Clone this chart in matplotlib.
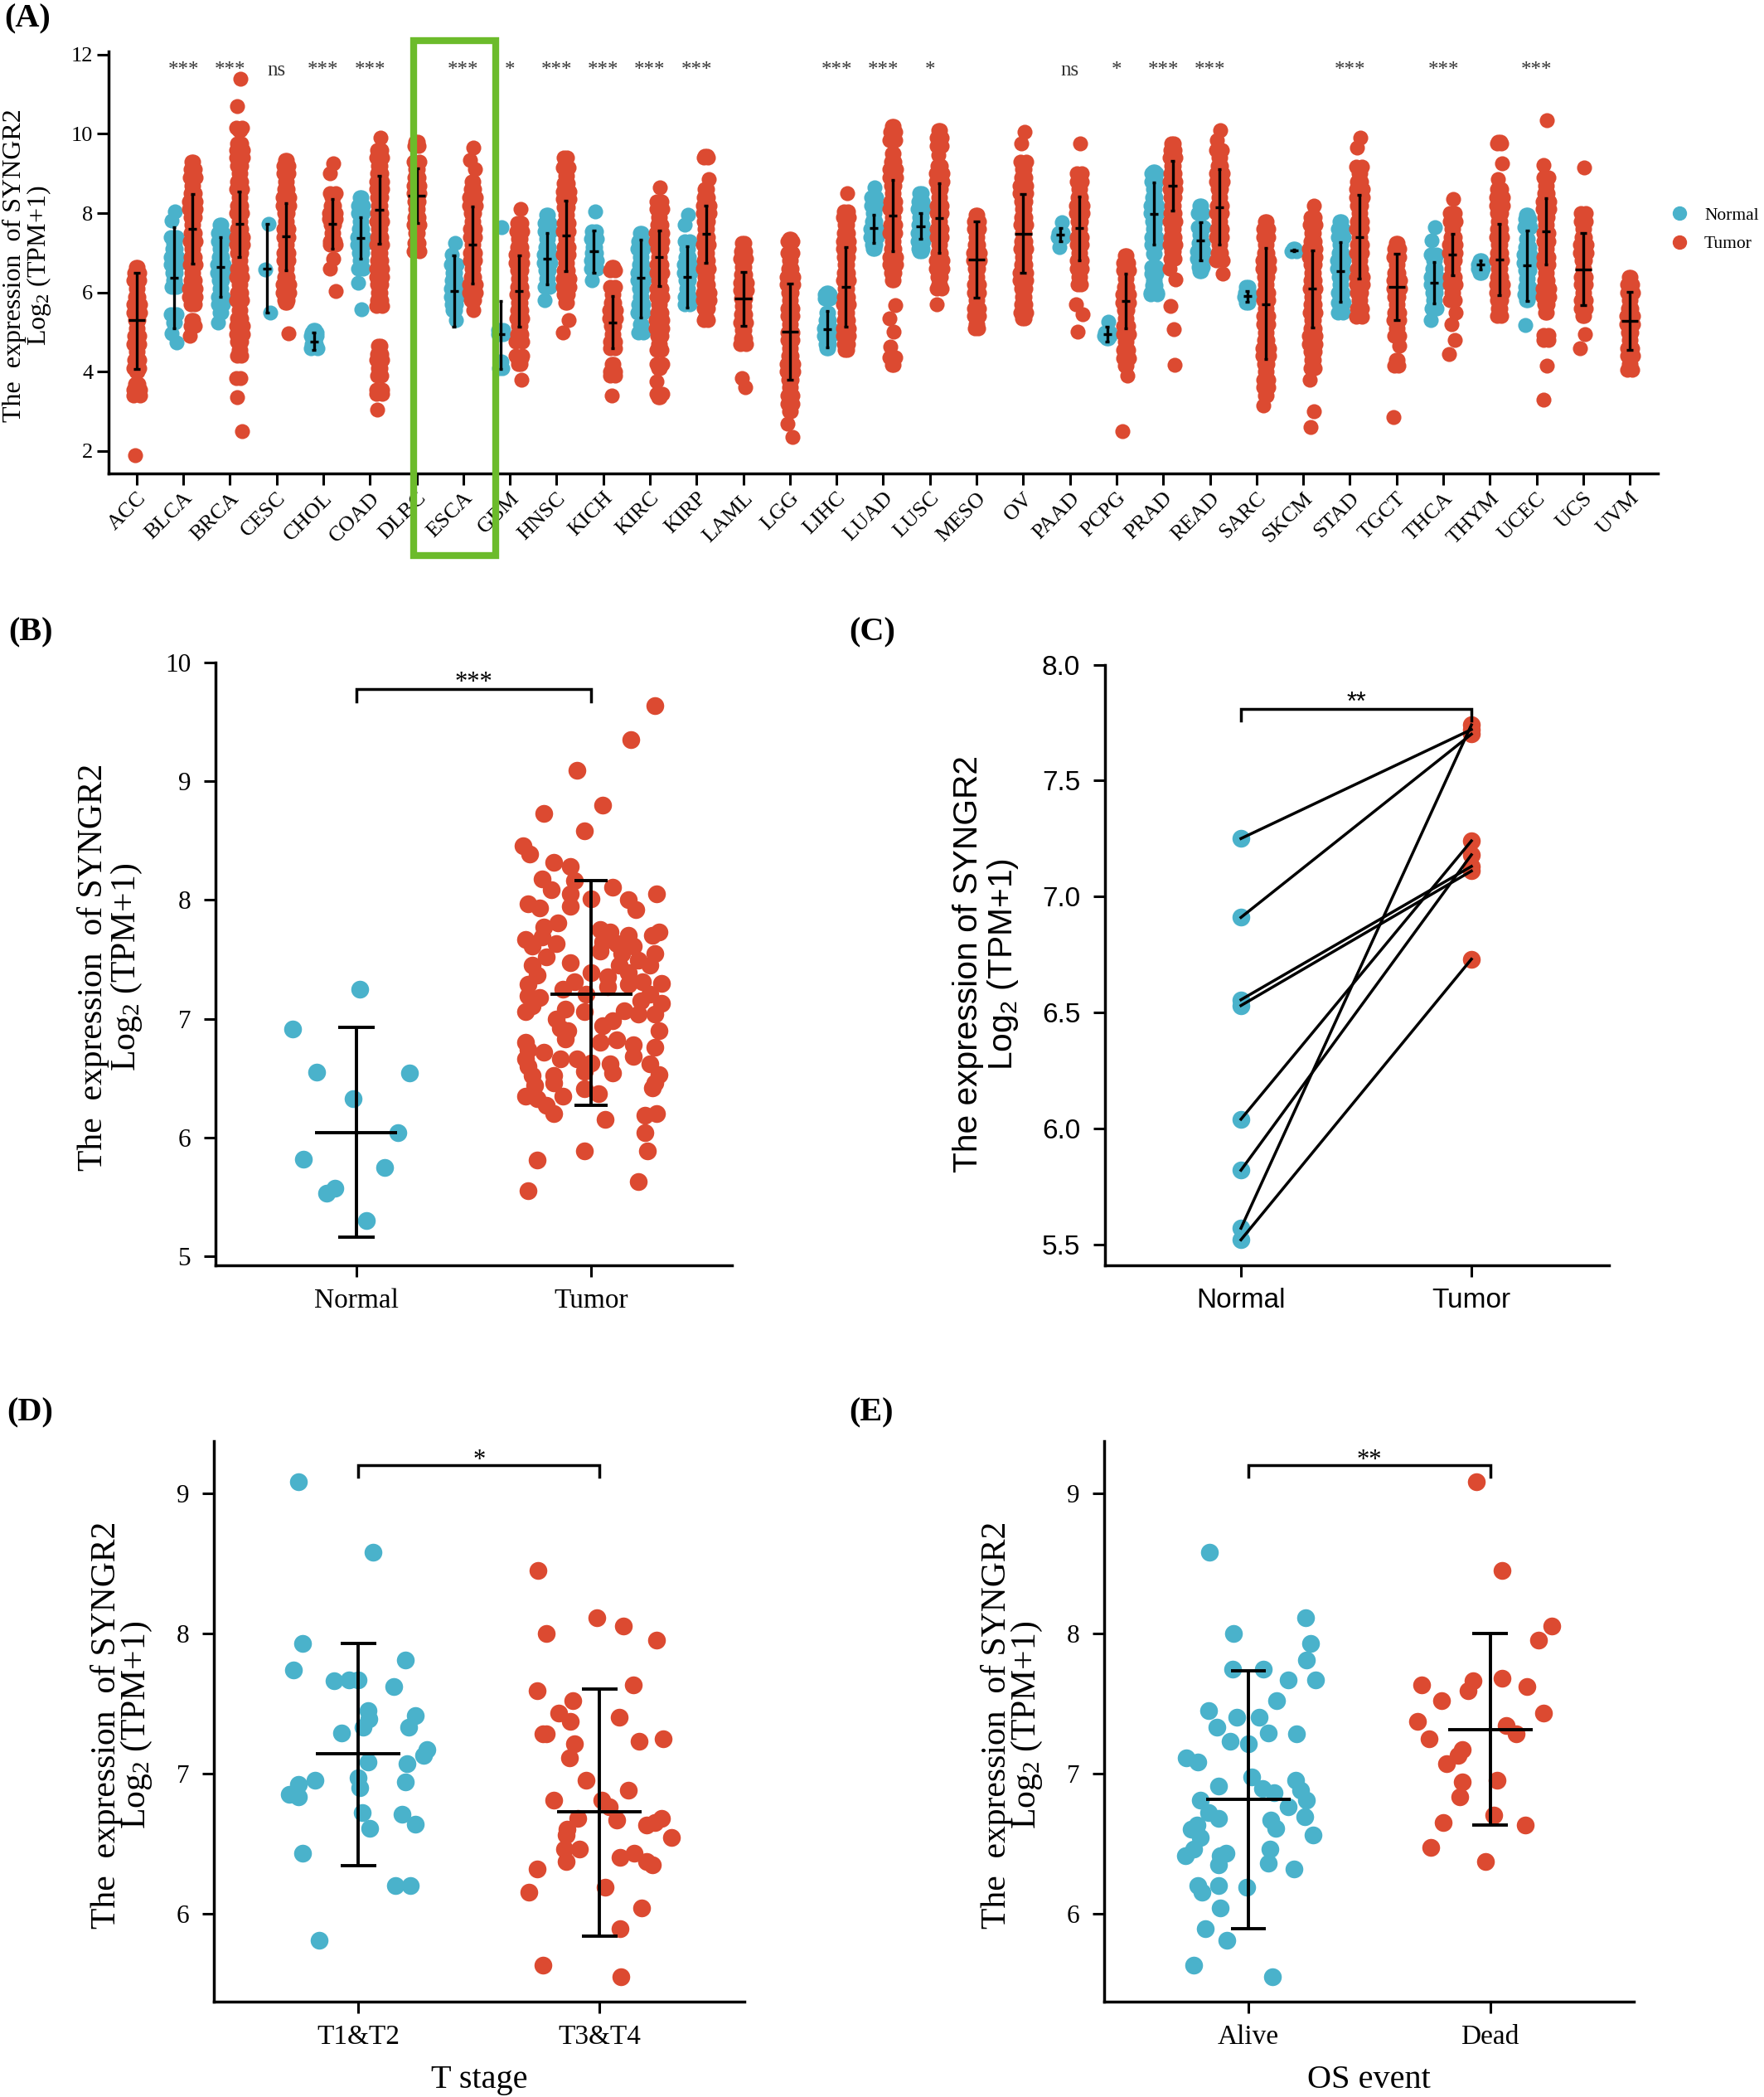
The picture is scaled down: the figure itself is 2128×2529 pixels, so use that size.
import matplotlib
matplotlib.use("Agg")
import matplotlib.pyplot as plt
from matplotlib.lines import Line2D
from matplotlib.patches import Rectangle

W, H = 2128, 2529
BLUE = "#4AB2CB"
RED = "#DC4A31"
GREEN = "#6CBB2B"
SERIF = "Liberation Serif"
SANS = "Liberation Sans"

plt.rcParams["font.family"] = [SERIF, "DejaVu Sans"]
plt.rcParams["mathtext.default"] = "regular"

# ---- panel A data ----
cancers = ["ACC", "BLCA", "BRCA", "CESC", "CHOL", "COAD", "DLBC", "ESCA", "GBM", "HNSC", "KICH",
           "KIRC", "KIRP", "LAML", "LGG", "LIHC", "LUAD", "LUSC", "MESO", "OV", "PAAD", "PCPG",
           "PRAD", "READ", "SARC", "SKCM", "STAD", "TGCT", "THCA", "THYM", "UCEC", "UCS", "UVM"]
signif = ["", "***", "***", "ns", "***", "***", "", "***", "*", "***", "***", "***", "***", "", "",
          "***", "***", "*", "", "", "ns", "*", "***", "***", "", "", "***", "", "***", "", "***", "", ""]

normal_mean = [None, 6.37, 6.65, 6.60, 4.77, 7.37, None, 6.04, 4.94, 6.86, 7.05, 6.37, 6.39, None, None,
               5.08, 7.62, 7.67, None, None, 7.46, 4.95, 7.99, 7.31, 5.91, 7.06, 6.53, None, 6.25, 6.70,
               6.68, None, None]
normal_lo = [None, 5.09, 5.90, 5.49, 4.55, 6.86, None, 5.13, 4.08, 6.20, 6.49, 5.37, 5.61, None, None,
             4.62, 7.24, 7.36, None, None, 7.29, 4.77, 7.21, 6.82, 5.77, 7.03, 5.77, None, 5.72, 6.58,
             5.79, None, None]
normal_hi = [None, 7.65, 7.40, 7.73, 4.99, 7.90, None, 6.93, 5.79, 7.50, 7.57, 7.34, 7.17, None, None,
             5.53, 7.96, 8.01, None, None, 7.62, 5.14, 8.78, 7.78, 6.03, 7.09, 7.28, None, 6.77, 6.81,
             7.57, None, None]
tumor_mean = [5.30, 7.60, 7.72, 7.42, 7.74, 8.09, 8.45, 7.21, 6.04, 7.43, 5.25, 6.89, 7.48, 5.84, 5.01,
              6.14, 7.94, 7.88, 6.83, 7.48, 7.62, 5.78, 8.70, 8.14, 5.71, 6.10, 7.40, 6.15, 6.96, 6.84,
              7.55, 6.59, 5.29]
tumor_lo = [4.08, 6.73, 6.89, 6.56, 7.10, 7.23, 7.76, 6.23, 5.14, 6.54, 4.60, 6.17, 6.75, 5.16, 3.80,
            5.14, 7.05, 7.00, 5.86, 6.49, 6.81, 5.10, 8.07, 7.20, 4.32, 5.12, 6.35, 5.31, 6.44, 5.93,
            6.71, 5.67, 4.55]
tumor_hi = [6.49, 8.48, 8.54, 8.25, 8.36, 8.94, 9.13, 8.17, 6.93, 8.31, 5.91, 7.56, 8.18, 6.51, 6.22,
            7.15, 8.83, 8.76, 7.80, 8.48, 8.43, 6.47, 9.31, 9.10, 7.12, 7.07, 8.46, 6.98, 7.48, 7.73,
            8.37, 7.50, 6.01]

BLCA_N = [8.05, 7.82, 7.4, 7.25, 7.1, 6.9, 6.7, 6.5, 6.3, 6.15, 5.45, 5.25, 4.97, 4.74]
BRCA_N = [7.7, 7.5, 7.3, 7.1, 6.9, 6.7, 6.5, 6.3, 6.1, 5.9, 5.7, 5.5, 5.25]
CESC_N = [7.72, 6.58, 5.5]
CHOL_N = [5.05, 5.0, 4.9, 4.8, 4.7, 4.6]
COAD_N = [8.4, 8.2, 8.0, 7.8, 7.6, 7.4, 7.2, 7.0, 6.8, 6.6, 6.25, 5.58]
ESCA_N = [7.25, 6.95, 6.7, 6.5, 6.3, 6.1, 5.9, 5.7, 5.55, 5.3]
GBM_N = [7.65, 5.05, 4.95, 4.25, 4.1]
HNSC_N = [7.95, 7.75, 7.55, 7.35, 7.15, 6.95, 6.75, 6.55, 6.35, 6.15, 5.8]
KICH_N = [8.05, 7.55, 7.35, 7.15, 7.0, 6.8, 6.6, 6.3]
KIRC_N = [7.5, 7.3, 7.1, 6.9, 6.7, 6.5, 6.3, 6.1, 5.9, 5.7, 5.5, 5.2, 5.0]
KIRP_N = [7.95, 7.7, 7.3, 7.1, 6.9, 6.7, 6.5, 6.3, 6.1, 5.9, 5.7]
LIHC_N = [6.0, 5.95, 5.85, 5.5, 5.3, 5.1, 4.9, 4.7, 4.6]
LUAD_N = [8.65, 8.4, 8.2, 8.0, 7.8, 7.6, 7.4, 7.2, 7.1]
LUSC_N = [8.5, 8.3, 8.1, 7.9, 7.7, 7.5, 7.3, 7.1, 7.03]
PAAD_N = [7.78, 7.5, 7.4, 7.14]
PCPG_N = [5.27, 5.0, 4.9, 4.85]
PRAD_N = [9.05, 9.0, 8.8, 8.6, 8.4, 8.2, 8.0, 7.8, 7.6, 7.4, 7.2, 6.98, 6.65, 6.47, 6.3, 6.19, 6.0, 5.95]
READ_N = [8.2, 8.0, 7.65, 7.45, 7.25, 7.05, 6.85, 6.65, 6.53]
SARC_N = [6.15, 6.0, 5.9, 5.75]
SKCM_N = [7.1, 7.05]
STAD_N = [7.8, 7.6, 7.4, 7.2, 7.0, 6.8, 6.6, 6.4, 6.2, 6.0, 5.75, 5.55, 5.5]
THCA_N = [7.65, 7.31, 6.95, 6.8, 6.6, 6.4, 6.2, 6.0, 5.8, 5.6, 5.3]
THYM_N = [6.8, 6.7, 6.6, 6.5]
UCEC_N = [7.95, 7.85, 7.65, 7.35, 7.15, 6.95, 6.75, 6.55, 6.35, 6.15, 5.95, 5.8, 5.18]

ACC_T = [6.65, 6.5, 6.3, 6.1, 5.9, 5.7, 5.5, 5.3, 5.1, 4.9, 4.7, 4.5, 4.3, 4.1, 4.0, 3.7, 3.55, 3.4, 1.9]
BLCA_T = [9.3, 9.1, 8.9, 8.7, 8.5, 8.3, 8.1, 7.9, 7.7, 7.5, 7.3, 7.1, 6.9, 6.7, 6.5, 6.3, 6.1, 5.9, 5.7, 5.3, 5.15, 4.9]
BRCA_T = [11.4, 10.7, 10.15, 10.1, 9.75, 9.6, 9.4, 9.2, 9.0, 8.8, 8.6, 8.4, 8.2, 8.0, 7.8, 7.6, 7.4, 7.2, 7.0,
          6.8, 6.6, 6.4, 6.2, 6.0, 5.8, 5.55, 5.35, 5.15, 4.95, 4.75, 4.55, 4.41, 3.85, 3.85, 3.35, 2.5]
CESC_T = [9.35, 9.2, 9.0, 8.8, 8.6, 8.4, 8.2, 8.0, 7.8, 7.6, 7.4, 7.2, 7.0, 6.8, 6.6, 6.4, 6.2, 6.0, 5.8, 5.75, 4.97]
CHOL_T = [9.25, 9.0, 8.5, 8.4, 8.2, 8.0, 7.85, 7.7, 7.5, 7.3, 7.2, 6.85, 6.6, 6.03]
COAD_T = [9.9, 9.6, 9.4, 9.2, 9.0, 8.8, 8.6, 8.4, 8.2, 8.0, 7.8, 7.6, 7.4, 7.2, 7.0, 6.8, 6.6, 6.4, 6.2, 6.0,
          5.8, 5.65, 4.65, 4.45, 4.3, 4.1, 3.9, 3.55, 3.45, 3.05]
DLBC_T = [9.8, 9.7, 9.3, 9.1, 8.9, 8.7, 8.5, 8.3, 8.1, 7.9, 7.7, 7.5, 7.25, 7.05]
ESCA_T = [9.65, 9.35, 9.1, 8.8, 8.6, 8.4, 8.2, 8.0, 7.8, 7.6, 7.4, 7.2, 7.0, 6.8, 6.6, 6.4, 6.2, 6.0, 5.8, 5.55]
GBM_T = [8.1, 7.75, 7.55, 7.35, 7.15, 6.95, 6.75, 6.55, 6.35, 6.15, 5.95, 5.75, 5.55, 5.35, 5.15, 4.95, 4.75,
         4.4, 4.35, 4.2, 3.8]
HNSC_T = [9.4, 9.4, 9.15, 8.95, 8.75, 8.55, 8.35, 8.15, 7.95, 7.75, 7.55, 7.35, 7.15, 6.95, 6.75, 6.55, 6.35,
          6.15, 5.95, 5.75, 5.3, 5.0]
KICH_T = [6.65, 6.55, 6.15, 5.95, 5.75, 5.55, 5.35, 5.15, 4.95, 4.75, 4.6, 4.2, 4.0, 3.9, 3.4]
KIRC_T = [8.65, 8.3, 8.1, 7.9, 7.7, 7.5, 7.3, 7.1, 6.9, 6.7, 6.5, 6.3, 6.1, 5.9, 5.7, 5.5, 5.3, 5.1, 4.9, 4.7,
          4.55, 4.2, 4.1, 3.75, 3.45, 3.35]
KIRP_T = [9.45, 9.4, 8.85, 8.6, 8.4, 8.2, 8.0, 7.8, 7.6, 7.4, 7.2, 7.0, 6.8, 6.6, 6.4, 6.2, 6.0, 5.8, 5.6, 5.35, 5.3]
LAML_T = [7.25, 7.05, 6.85, 6.65, 6.45, 6.25, 6.05, 5.85, 5.65, 5.45, 5.25, 5.05, 4.85, 4.7, 3.85, 3.6]
LGG_T = [7.35, 7.3, 7.0, 6.8, 6.6, 6.4, 6.2, 6.0, 5.8, 5.6, 5.4, 5.2, 5.0, 4.8, 4.6, 4.4, 4.2, 4.0, 3.8, 3.6,
         3.4, 3.2, 3.0, 2.7, 2.35]
LIHC_T = [8.5, 8.05, 7.9, 7.7, 7.5, 7.3, 7.1, 6.9, 6.7, 6.5, 6.3, 6.1, 5.9, 5.7, 5.5, 5.3, 5.1, 4.9, 4.7, 4.55]
LUAD_T = [10.2, 10.05, 9.85, 9.5, 9.3, 9.1, 8.9, 8.7, 8.5, 8.3, 8.1, 7.9, 7.7, 7.5, 7.3, 7.1, 6.9, 6.7, 6.5, 6.3,
          5.67, 5.35, 5.02, 4.64, 4.36, 4.18]
LUSC_T = [10.1, 9.9, 9.7, 9.46, 9.2, 9.0, 8.8, 8.6, 8.4, 8.2, 8.0, 7.8, 7.6, 7.4, 7.2, 7.0, 6.8, 6.6, 6.4, 6.2,
          6.09, 5.7]
MESO_T = [7.95, 7.8, 7.6, 7.4, 7.2, 7.0, 6.8, 6.6, 6.4, 6.2, 6.0, 5.8, 5.6, 5.4, 5.2, 5.1]
OV_T = [10.05, 9.75, 9.3, 9.1, 8.9, 8.7, 8.5, 8.3, 8.1, 7.9, 7.7, 7.5, 7.3, 7.1, 6.9, 6.7, 6.5, 6.3, 6.1, 5.9,
        5.7, 5.5, 5.35]
PAAD_T = [9.75, 9.0, 8.8, 8.6, 8.4, 8.2, 8.0, 7.8, 7.6, 7.4, 7.2, 7.0, 6.8, 6.6, 6.4, 6.2, 5.7, 5.45, 5.02]
PCPG_T = [6.93, 6.75, 6.55, 6.35, 6.15, 5.95, 5.75, 5.55, 5.35, 5.15, 4.95, 4.75, 4.55, 4.35, 4.15, 3.9, 2.5]
PRAD_T = [9.75, 9.6, 9.4, 9.2, 9.0, 8.8, 8.6, 8.4, 8.2, 8.0, 7.8, 7.6, 7.4, 7.2, 7.03, 6.85, 6.6, 6.33, 5.65, 5.07, 4.18]
READ_T = [10.09, 9.85, 9.6, 9.4, 9.2, 9.0, 8.8, 8.6, 8.4, 8.2, 8.0, 7.8, 7.6, 7.4, 7.2, 7.0, 6.8, 6.47]
SARC_T = [7.8, 7.6, 7.4, 7.2, 7.0, 6.8, 6.6, 6.4, 6.2, 6.0, 5.8, 5.6, 5.4, 5.2, 5.0, 4.8, 4.6, 4.4, 4.2, 4.0,
          3.8, 3.6, 3.4, 3.15]
SKCM_T = [8.2, 7.9, 7.7, 7.5, 7.3, 7.1, 6.9, 6.7, 6.5, 6.3, 6.1, 5.9, 5.7, 5.5, 5.3, 5.1, 4.9, 4.7, 4.5, 4.3,
          4.1, 3.8, 3.0, 2.6]
STAD_T = [9.9, 9.65, 9.18, 9.0, 8.8, 8.6, 8.4, 8.2, 8.0, 7.8, 7.6, 7.4, 7.2, 7.0, 6.8, 6.6, 6.4, 6.2, 6.0, 5.8,
          5.6, 5.39]
TGCT_T = [7.25, 7.1, 6.9, 6.7, 6.5, 6.3, 6.1, 5.9, 5.7, 5.5, 5.3, 5.1, 4.9, 4.65, 4.3, 4.15, 2.85]
THCA_T = [8.35, 8.0, 7.8, 7.6, 7.4, 7.2, 7.0, 6.8, 6.6, 6.4, 6.2, 6.0, 5.8, 5.5, 5.2, 4.8, 4.45]
THYM_T = [9.8, 9.75, 9.25, 8.85, 8.6, 8.4, 8.2, 8.0, 7.8, 7.6, 7.4, 7.2, 7.0, 6.8, 6.6, 6.4, 6.2, 6.0, 5.8, 5.6, 5.4]
UCEC_T = [10.35, 9.22, 8.9, 8.7, 8.5, 8.3, 8.1, 7.9, 7.7, 7.5, 7.3, 7.1, 6.9, 6.7, 6.5, 6.3, 6.1, 5.9, 5.7, 5.5,
          4.93, 4.8, 4.15, 3.3]
UCS_T = [9.15, 8.0, 7.8, 7.6, 7.4, 7.2, 7.0, 6.8, 6.6, 6.4, 6.2, 6.0, 5.8, 5.6, 5.4, 4.95, 4.6]
UVM_T = [6.4, 6.2, 6.0, 5.8, 5.6, 5.4, 5.2, 5.0, 4.8, 4.6, 4.4, 4.2, 4.05]

normal_points = [[], BLCA_N, BRCA_N, CESC_N, CHOL_N, COAD_N, [], ESCA_N, GBM_N, HNSC_N, KICH_N, KIRC_N, KIRP_N,
                 [], [], LIHC_N, LUAD_N, LUSC_N, [], [], PAAD_N, PCPG_N, PRAD_N, READ_N, SARC_N, SKCM_N, STAD_N,
                 [], THCA_N, THYM_N, UCEC_N, [], []]
tumor_points = [ACC_T, BLCA_T, BRCA_T, CESC_T, CHOL_T, COAD_T, DLBC_T, ESCA_T, GBM_T, HNSC_T, KICH_T, KIRC_T,
                KIRP_T, LAML_T, LGG_T, LIHC_T, LUAD_T, LUSC_T, MESO_T, OV_T, PAAD_T, PCPG_T, PRAD_T, READ_T,
                SARC_T, SKCM_T, STAD_T, TGCT_T, THCA_T, THYM_T, UCEC_T, UCS_T, UVM_T]
# x offsets cycled over each column of panel A
jitter = [0.02, -0.05, 0.06, -0.02, 0.04, -0.07, 0.07, -0.04, 0.02, 0.05, -0.06]

# ---- panel B data ----
b_normal_x = [0.014, -0.27, -0.17, 0.225, -0.013, 0.178, -0.227, 0.12, -0.09, -0.128, 0.043]
b_normal_y = [7.25, 6.91, 6.55, 6.54, 6.33, 6.04, 5.82, 5.75, 5.57, 5.53, 5.30]
b_tumor_x = [1.27, 1.17, 0.94, 1.05, 0.80, 0.97, 0.71, 0.74, 0.84, 0.91, 0.79, 0.93, 1.09, 1.28, 0.83, 0.91, 1.0,
             1.16, 0.73, 0.91, 0.78, 1.19, 0.86, 0.80, 1.04, 1.08, 1.29, 1.26, 1.16, 0.72, 0.79, 0.85, 0.75, 1.05,
             1.11, 1.18, 1.04, 1.27, 1.13, 0.81, 1.20, 0.91, 1.12, 0.75, 1.25, 1.16, 1.0, 0.77, 1.07, 0.93, 0.73,
             1.30, 1.22, 1.16, 1.07, 0.88, 0.98, 0.73, 0.78, 1.25, 1.21, 1.30, 0.75, 0.89, 1.14, 0.72, 0.97, 1.27,
             1.20, 0.85, 1.09, 1.05, 0.87, 1.29, 0.90, 0.89, 1.11, 1.04, 0.72, 1.18, 1.27, 0.73, 0.80, 1.18, 0.72,
             0.87, 0.94, 1.0, 1.08, 1.25, 0.73, 0.97, 1.09, 1.29, 0.75, 0.84, 0.84, 0.76, 1.27, 1.26, 0.97, 1.03,
             0.88, 0.72, 0.77, 0.81, 0.84, 1.23, 1.28, 1.06, 1.23, 0.97, 1.24, 0.77, 1.20, 0.73]
b_tumor_y = [9.64, 9.35, 9.09, 8.80, 8.73, 8.58, 8.46, 8.39, 8.32, 8.28, 8.18, 8.16, 8.11, 8.05, 8.09, 8.05, 8.01,
             8.0, 7.97, 7.95, 7.93, 7.92, 7.81, 7.77, 7.75, 7.73, 7.73, 7.70, 7.70, 7.67, 7.69, 7.63, 7.61, 7.65,
             7.63, 7.61, 7.57, 7.55, 7.55, 7.52, 7.49, 7.47, 7.45, 7.45, 7.45, 7.39, 7.39, 7.37, 7.35, 7.31, 7.29,
             7.30, 7.31, 7.29, 7.27, 7.25, 7.21, 7.19, 7.18, 7.21, 7.15, 7.13, 7.11, 7.08, 7.07, 7.06, 7.06, 7.04,
             7.04, 7.00, 6.98, 6.94, 6.92, 6.90, 6.90, 6.83, 6.82, 6.80, 6.80, 6.78, 6.76, 6.74, 6.72, 6.68, 6.66,
             6.66, 6.66, 6.63, 6.62, 6.62, 6.60, 6.56, 6.54, 6.53, 6.52, 6.52, 6.46, 6.44, 6.46, 6.42, 6.41, 6.37,
             6.35, 6.35, 6.33, 6.27, 6.20, 6.19, 6.20, 6.15, 6.04, 5.89, 5.89, 5.81, 5.63, 5.55]

# ---- panel C data (paired) ----
c_normal = [7.25, 6.91, 6.555, 6.53, 6.04, 5.82, 5.57, 5.52]
c_tumor = [7.72, 7.70, 7.13, 7.11, 7.24, 7.18, 7.74, 6.73]

# ---- panel D data ----
d_low_x = [-0.25, 0.06, -0.23, 0.195, -0.27, -0.10, -0.04, 0.0, 0.147, 0.04, 0.044, 0.237, 0.02, 0.21, -0.07, 0.285,
           0.27, 0.04, 0.20, -0.18, 0.0, 0.193, -0.248, 0.007, -0.285, -0.248, 0.015, 0.18, 0.046, 0.237, -0.23,
           0.154, 0.215, -0.164]
d_low_y = [9.08, 8.58, 7.93, 7.81, 7.74, 7.66, 7.67, 7.67, 7.62, 7.45, 7.39, 7.41, 7.33, 7.33, 7.29, 7.17, 7.13,
           7.08, 7.07, 6.95, 6.97, 6.94, 6.92, 6.90, 6.85, 6.83, 6.72, 6.71, 6.61, 6.64, 6.43, 6.20, 6.20, 5.81]
d_high_x = [0.743, 0.99, 1.10, 0.78, 1.237, 0.74, 1.14, 0.89, 0.83, 0.877, 1.08, 0.765, 0.78, 0.897, 1.164, 1.263,
            0.875, 0.945, 1.12, 0.81, 1.01, 1.04, 1.07, 0.91, 1.257, 1.228, 1.193, 0.866, 0.862, 1.296, 0.855, 0.915,
            1.083, 1.143, 1.193, 1.22, 0.86, 0.74, 1.024, 0.706, 1.173, 1.086, 0.765, 1.088]
d_high_y = [8.45, 8.11, 8.05, 8.0, 7.95, 7.59, 7.63, 7.52, 7.43, 7.37, 7.40, 7.28, 7.28, 7.21, 7.23, 7.25, 7.11,
            6.95, 6.88, 6.81, 6.81, 6.76, 6.67, 6.68, 6.68, 6.65, 6.63, 6.60, 6.56, 6.54, 6.46, 6.46, 6.40, 6.43,
            6.37, 6.35, 6.37, 6.32, 6.19, 6.15, 6.04, 5.89, 5.63, 5.55]

# ---- panel E data ----
e_alive_x = [-0.16, 0.236, -0.063, 0.256, 0.239, -0.066, 0.063, 0.166, 0.278, 0.116, -0.166, -0.048, 0.046, -0.13,
             0.083, 0.2, -0.074, 0.0, -0.256, -0.21, 0.013, 0.197, -0.122, 0.057, 0.217, 0.105, -0.2, 0.239, 0.166,
             -0.166, -0.122, 0.232, 0.094, -0.212, 0.114, -0.236, -0.2, 0.267, -0.228, 0.088, -0.092, -0.116, -0.26,
             -0.125, 0.083, 0.19, -0.21, -0.125, -0.007, -0.193, -0.116, -0.18, -0.09, -0.225, 0.098]
e_alive_y = [8.58, 8.11, 8.0, 7.93, 7.81, 7.745, 7.745, 7.67, 7.67, 7.52, 7.45, 7.40, 7.40, 7.33, 7.29, 7.28, 7.23,
             7.21, 7.11, 7.08, 6.975, 6.95, 6.91, 6.89, 6.88, 6.86, 6.81, 6.81, 6.76, 6.72, 6.68, 6.69, 6.67, 6.63,
             6.61, 6.60, 6.54, 6.56, 6.46, 6.46, 6.43, 6.41, 6.41, 6.35, 6.36, 6.32, 6.20, 6.20, 6.19, 6.15, 6.04,
             5.89, 5.81, 5.63, 5.55]
e_dead_x = [0.943, 1.05, 1.256, 1.20, 0.928, 1.05, 0.718, 1.153, 0.91, 0.80, 1.22, 0.70, 1.066, 1.107, 0.746, 0.886,
            0.869, 0.82, 0.884, 1.03, 0.873, 1.015, 0.805, 1.147, 0.753, 0.982]
e_dead_y = [9.08, 8.45, 8.05, 7.95, 7.66, 7.68, 7.63, 7.62, 7.59, 7.52, 7.43, 7.37, 7.34, 7.28, 7.25, 7.17, 7.13,
            7.07, 6.94, 6.95, 6.83, 6.70, 6.65, 6.63, 6.47, 6.37]


def add_axes(left, right, top, bottom, xpad=9.5, ypad=11.5):
    ax = fig.add_axes([left / W, 1 - bottom / H, (right - left) / W, (bottom - top) / H])
    ax.spines["top"].set_visible(False)
    ax.spines["right"].set_visible(False)
    ax.spines["left"].set_linewidth(2.5)
    ax.spines["bottom"].set_linewidth(2.5)
    ax.tick_params(width=2.2, length=10)
    ax.tick_params(axis="x", pad=xpad)
    ax.tick_params(axis="y", pad=ypad)
    return ax


def column_xy(center, values):
    xs, ys = [], []
    for k, v in enumerate(values):
        j = jitter[k % len(jitter)]
        xs.append(center + j)
        ys.append(v)
        # inside a dense stretch one read value stands for several overlapping samples
        if any(v != o and abs(v - o) < 0.22 for o in values):
            xs.append(center - j)
            ys.append(v)
    return xs, ys


def sd_bars(ax, x, mean, lo, hi, half, cap, lw=2.8):
    ax.plot([x, x], [lo, hi], color="black", lw=lw, zorder=5, solid_capstyle="butt")
    ax.plot([x - half, x + half], [mean, mean], color="black", lw=lw, zorder=5, solid_capstyle="butt")
    ax.plot([x - cap, x + cap], [lo, lo], color="black", lw=lw, zorder=5, solid_capstyle="butt")
    ax.plot([x - cap, x + cap], [hi, hi], color="black", lw=lw, zorder=5, solid_capstyle="butt")


def bracket(ax, y, drop, label, family=SERIF, gap=0.0):
    ax.plot([0, 0, 1, 1], [y - drop, y, y, y - drop], color="black", lw=2.5, zorder=5,
            solid_joinstyle="miter", clip_on=False)
    ax.text(0.5, y + gap, label, ha="center", va="center", fontsize=22, family=family, clip_on=False)


def two_line_label(x1, x2, ymid, size, family=SERIF):
    fig.text(x1 / W, 1 - ymid / H, "The  expression  of SYNGR2" if family == SERIF else "The expression of SYNGR2",
             rotation=90, ha="center", va="center", fontsize=size, family=family)
    fig.text(x2 / W, 1 - ymid / H, "Log$_2$ (TPM+1)", rotation=90, ha="center", va="center",
             fontsize=size, family=family)


def panel_letter(x, y, s):
    fig.text(x / W, 1 - y / H, s, ha="left", va="center", fontsize=29, fontweight="bold", family=SERIF)


fig = plt.figure(figsize=(W / 100, H / 100), dpi=100, facecolor="white")

# panel A
ax = add_axes(131, 2000, 62, 571, xpad=3.5, ypad=3.5)
for i in range(len(cancers)):
    if normal_mean[i] is not None:
        xs, ys = column_xy(i - 0.2, normal_points[i])
        ax.scatter(xs, ys, s=170, color=BLUE, linewidths=0, zorder=2)
    offset = 0.2 if normal_mean[i] is not None else 0.0
    xs, ys = column_xy(i + offset, tumor_points[i])
    ax.scatter(xs, ys, s=170, color=RED, linewidths=0, zorder=3)
    if normal_mean[i] is not None:
        sd_bars(ax, i - 0.2, normal_mean[i], normal_lo[i], normal_hi[i], 0.09, 0.04, lw=2.4)
        sd_bars(ax, i + 0.2, tumor_mean[i], tumor_lo[i], tumor_hi[i], 0.09, 0.04, lw=2.4)
    else:
        sd_bars(ax, i, tumor_mean[i], tumor_lo[i], tumor_hi[i], 0.18, 0.07, lw=2.4)
    if signif[i]:
        ax.text(i, 11.60, signif[i], ha="center", va="center", fontsize=18, color="#333333")
ax.set_xlim(-0.6, 32.6)
ax.set_ylim(1.435, 12.08)
ax.set_yticks([2, 4, 6, 8, 10, 12])
ax.set_xticks(range(len(cancers)))
ax.set_xticklabels(cancers, rotation=45, ha="right", rotation_mode="anchor", fontsize=19)
ax.tick_params(axis="y", labelsize=19)
ax.add_patch(Rectangle((5.93, -0.64), 1.76, 13.0, fill=False, edgecolor=GREEN, linewidth=6, clip_on=False, zorder=10))
two_line_label(17, 47, 320, 23)
handles = [Line2D([], [], marker="o", ls="", color=BLUE, markersize=11.5, label="Normal"),
           Line2D([], [], marker="o", ls="", color=RED, markersize=11.5, label="Tumor")]
fig.legend(handles=handles, loc="center left", bbox_to_anchor=(1985 / W, 1 - 277 / H), frameon=False,
           fontsize=15.5, handletextpad=0.4, labelspacing=0.65)
panel_letter(5, 23, "(A)")

# panel B
ax = add_axes(260, 883, 799, 1526)
ax.scatter(b_normal_x, b_normal_y, s=240, color=BLUE, linewidths=0, zorder=2)
ax.scatter(b_tumor_x, b_tumor_y, s=240, color=RED, linewidths=0, zorder=2)
sd_bars(ax, 0, 6.04, 5.16, 6.93, 0.175, 0.077)
sd_bars(ax, 1, 7.21, 6.27, 8.16, 0.175, 0.072)
bracket(ax, 9.78, 0.11, "***", gap=0.05)
ax.set_xlim(-0.6, 1.6)
ax.set_ylim(4.923, 10)
ax.set_yticks([5, 6, 7, 8, 9, 10])
ax.set_xticks([0, 1])
ax.set_xticklabels(["Normal", "Tumor"], fontsize=24)
ax.tick_params(axis="y", labelsize=22.5)
two_line_label(113, 153, 1166, 30)
panel_letter(10, 763, "(B)")

# panel C
ax = add_axes(1333, 1941, 801.5, 1526)
for a, b in zip(c_normal, c_tumor):
    ax.plot([0, 1], [a, b], color="black", lw=2.5, zorder=3)
ax.scatter([0] * len(c_normal), c_normal, s=240, color=BLUE, linewidths=0, zorder=2)
ax.scatter([1] * len(c_tumor), c_tumor, s=240, color=RED, linewidths=0, zorder=2)
bracket(ax, 7.81, 0.05, "**", family=SANS, gap=0.024)
ax.set_xlim(-0.59, 1.597)
ax.set_ylim(5.41, 8.0)
ax.set_yticks([5.5, 6.0, 6.5, 7.0, 7.5, 8.0])
ax.set_yticklabels(["5.5", "6.0", "6.5", "7.0", "7.5", "8.0"], fontsize=24, family=SANS)
ax.set_xticks([0, 1])
ax.set_xticklabels(["Normal", "Tumor"], fontsize=24, family=SANS)
two_line_label(1168, 1210, 1163, 29.3, family=SANS)
panel_letter(1024, 763, "(C)")

# panel D
ax = add_axes(258, 898, 1738, 2414)
ax.scatter(d_low_x, d_low_y, s=240, color=BLUE, linewidths=0, zorder=2)
ax.scatter(d_high_x, d_high_y, s=240, color=RED, linewidths=0, zorder=2)
sd_bars(ax, 0, 7.14, 6.34, 7.93, 0.175, 0.073)
sd_bars(ax, 1, 6.725, 5.84, 7.60, 0.175, 0.073)
bracket(ax, 9.2, 0.085, "*", gap=0.03)
ax.set_xlim(-0.599, 1.6)
ax.set_ylim(5.371, 9.372)
ax.set_yticks([6, 7, 8, 9])
ax.set_xticks([0, 1])
ax.set_xticklabels(["T1&T2", "T3&T4"], fontsize=24)
ax.tick_params(axis="y", labelsize=22.5)
ax.set_xlabel("T stage", fontsize=29, labelpad=13)
two_line_label(129, 165, 2080, 30)
panel_letter(8, 1704, "(D)")

# panel E
ax = add_axes(1332, 1971, 1738, 2414)
ax.scatter(e_alive_x, e_alive_y, s=240, color=BLUE, linewidths=0, zorder=2)
ax.scatter(e_dead_x, e_dead_y, s=240, color=RED, linewidths=0, zorder=2)
sd_bars(ax, 0, 6.815, 5.89, 7.73, 0.175, 0.073)
sd_bars(ax, 1, 7.31, 6.63, 8.0, 0.175, 0.073)
bracket(ax, 9.2, 0.085, "**", gap=0.03)
ax.set_xlim(-0.597, 1.595)
ax.set_ylim(5.371, 9.372)
ax.set_yticks([6, 7, 8, 9])
ax.set_xticks([0, 1])
ax.set_xticklabels(["Alive", "Dead"], fontsize=24)
ax.tick_params(axis="y", labelsize=22.5)
ax.set_xlabel("OS event", fontsize=29, labelpad=13)
two_line_label(1203, 1239, 2080, 30)
panel_letter(1024, 1704, "(E)")

fig.savefig("out.png", dpi=100)
